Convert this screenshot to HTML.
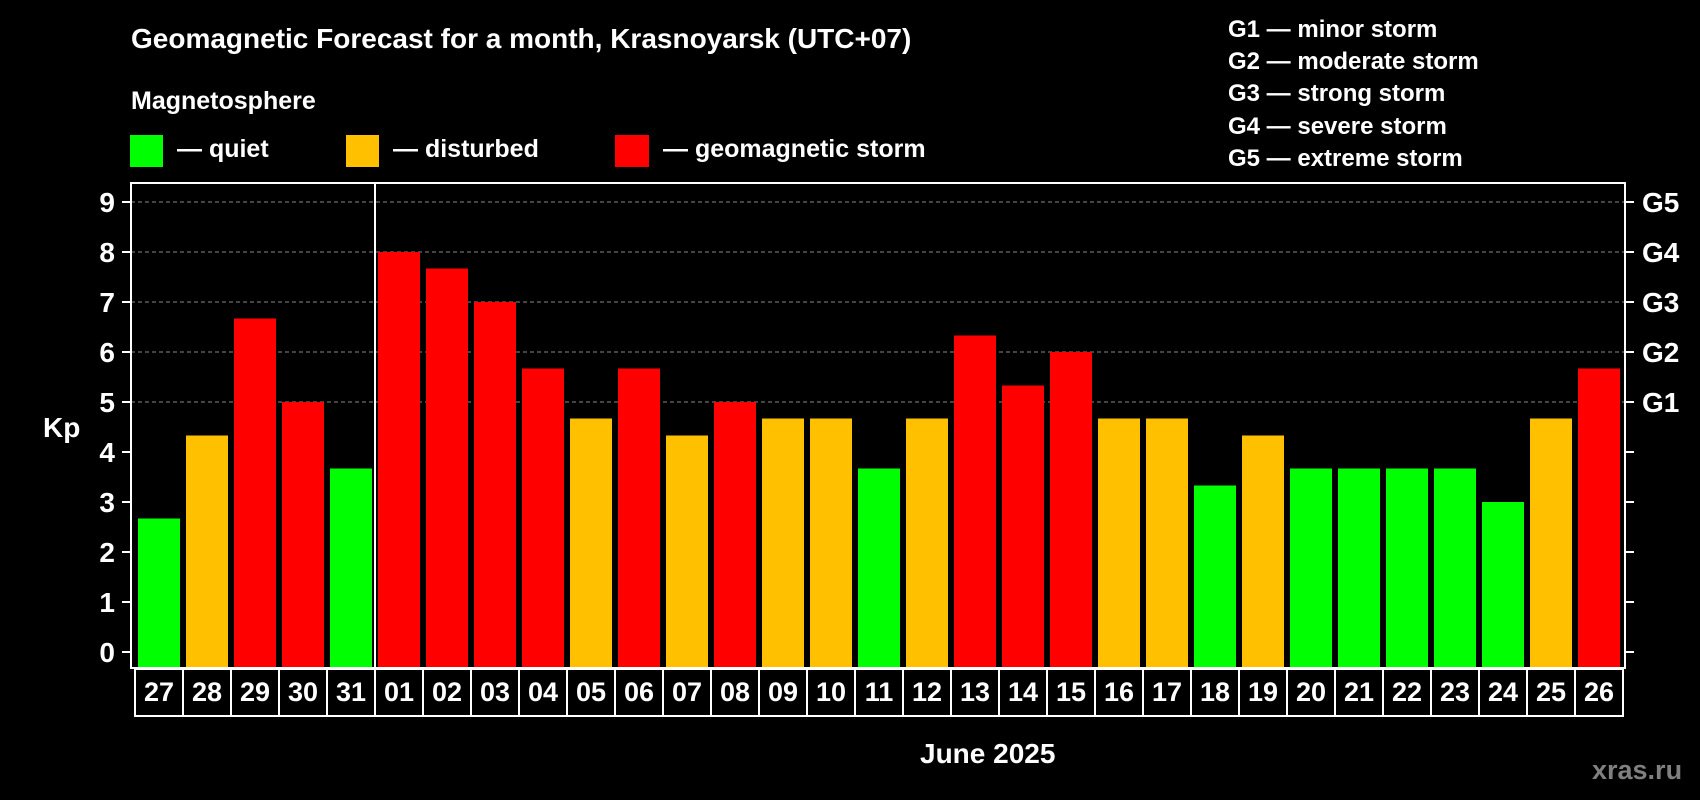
<!DOCTYPE html>
<html><head><meta charset="utf-8"><style>
html,body{margin:0;padding:0;background:#000;width:1700px;height:800px;overflow:hidden}
svg{display:block;font-family:"Liberation Sans",Arial,sans-serif;font-weight:bold}
</style></head><body>
<svg id="chart" width="1700" height="800" viewBox="0 0 1700 800">
<text x="131" y="48" font-size="28" fill="#fff">Geomagnetic Forecast for a month, Krasnoyarsk (UTC+07)</text>
<text x="131" y="109" font-size="25" fill="#fff">Magnetosphere</text>
<g><rect x="130" y="135" width="33" height="32" fill="#00ff00"/><text x="177" y="157" font-size="25" fill="#fff">— quiet</text></g>
<g><rect x="346" y="135" width="33" height="32" fill="#ffc000"/><text x="393" y="157" font-size="25" fill="#fff">— disturbed</text></g>
<g><rect x="615" y="135" width="34" height="32" fill="#ff0000"/><text x="663" y="157" font-size="25" fill="#fff">— geomagnetic storm</text></g>
<g font-size="24" fill="#fff">
<text x="1228" y="37">G1 — minor storm</text>
<text x="1228" y="69">G2 — moderate storm</text>
<text x="1228" y="101">G3 — strong storm</text>
<text x="1228" y="134">G4 — severe storm</text>
<text x="1228" y="166">G5 — extreme storm</text>
</g>
<text x="43" y="437" font-size="28" fill="#fff">Kp</text>
<text x="920" y="763" font-size="28" fill="#fff">June 2025</text>
<text x="1592" y="779" font-size="27" fill="#808080">xras.ru</text>
<g id="plot"></g>
</svg>
<script>
const categories=["27","28","29","30","31","01","02","03","04","05","06","07","08","09","10","11","12","13","14","15","16","17","18","19","20","21","22","23","24","25","26"];
const kpValues=[2.67,4.33,6.67,5,3.67,8,7.67,7,5.67,4.67,5.67,4.33,5,4.67,4.67,3.67,4.67,6.33,5.33,6,4.67,4.67,3.33,4.33,3.67,3.67,3.67,3.67,3,4.67,5.67];
const yTicks=[0,1,2,3,4,5,6,7,8,9];
const gLabels=["G1","G2","G3","G4","G5"];
const gLevels=[5,6,7,8,9];
const gridLevels=[5,6,7,8,9];

const NS="http://www.w3.org/2000/svg";
const plot=document.getElementById('plot');
const L=131,R=1625,T=183,B=668,X0=135,SLOT=48,BW=42;
const y=v=>652-v*50;
const x=i=>X0+i*SLOT;
function mk(tag,a){const e=document.createElementNS(NS,tag);for(const k in a)e.setAttribute(k,a[k]);plot.appendChild(e);return e;}
const color=v=>v<4?"#00ff00":(v<5?"#ffc000":"#ff0000");

gridLevels.forEach(v=>{
  const g=mk('line',{x1:L,x2:R,y1:y(v),y2:y(v),stroke:"#888",'stroke-width':1,'stroke-dasharray':"4,3"});
  
  
});
kpValues.forEach((v,i)=>{
  const b=mk('rect',{x:x(i)+3,y:y(v),width:BW,height:B-y(v)-1,fill:color(v)});
  
  
});
const fr=mk('rect',{x:L,y:T,width:R-L,height:B-T,fill:"none",stroke:"#fff",'stroke-width':2});


const sep=mk('line',{x1:375,x2:375,y1:T,y2:B,stroke:"#fff",'stroke-width':2});


yTicks.forEach(v=>{
  const t=mk('line',{x1:122,x2:L,y1:y(v),y2:y(v),stroke:"#fff",'stroke-width':2});
  
  
  const t2=mk('line',{x1:R,x2:R+9,y1:y(v),y2:y(v),stroke:"#fff",'stroke-width':2});
  
  
  const l=mk('text',{x:115,y:y(v)+10,'font-size':28,fill:"#fff",'text-anchor':"end"});
  l.textContent=v;
  
  
});
gLabels.forEach((g,i)=>{
  const l=mk('text',{x:1642,y:y(gLevels[i])+10,'font-size':28,fill:"#fff"});
  l.textContent=g;
  
  
});
categories.forEach((c,i)=>{
  const r=mk('rect',{x:x(i),y:669,width:SLOT,height:47,fill:"#000",stroke:"#fff",'stroke-width':2});
  
  
  const t=mk('text',{x:x(i)+SLOT/2,y:701,'font-size':27,fill:"#fff",'text-anchor':"middle"});
  t.textContent=c;
  
  
});
</script>
</body></html>
